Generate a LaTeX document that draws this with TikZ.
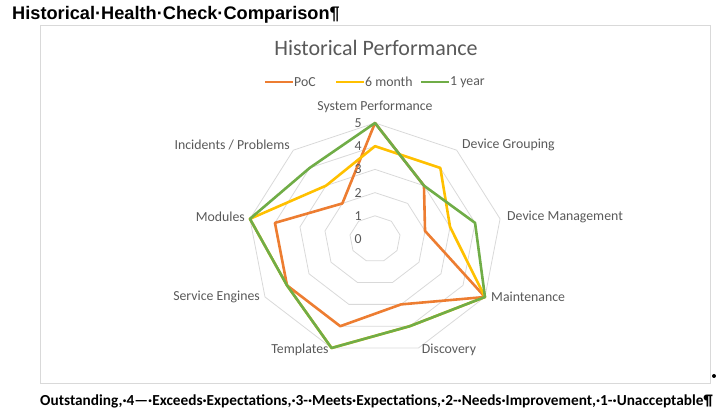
\documentclass[tikz,border=0pt]{standalone}
\usepackage{fontspec}
\setmainfont{Carlito}
\newfontfamily\arialfont{Liberation Sans}
\definecolor{pocorange}{HTML}{ED7D31}
\definecolor{sixyellow}{HTML}{FFC000}
\definecolor{yeargreen}{HTML}{70AD47}
\definecolor{chartgray}{HTML}{595959}
\definecolor{gridgray}{HTML}{D9D9D9}

\begin{document}
\begin{tikzpicture}[x=1pt, y=-1pt]
        \tikzstyle{chart_text}=[text=chartgray, font=\fontsize{13.8}{16}\selectfont, inner sep=0pt];
        \tikzstyle{grid_ring}=[draw=gridgray, line width=0.8pt];
        \tikzstyle{series}=[line width=2.6pt, line join=round];
        \useasboundingbox (0,0) rectangle (716,411);

        % page heading
        \node[anchor=base west, inner sep=0pt, font=\arialfont\bfseries\fontsize{18.2}{21}\selectfont] (heading) at (12,20) {Historical·Health·Check·Comparison¶};

        % chart frame
        \draw[gridgray, line width=0.8pt] (40,25) rectangle (710,383);
        \fill (714,376) circle (2);

        % chart title
        \node[chart_text, font=\fontsize{22}{25}\selectfont] (title) at (376,48) {Historical Performance};

        % legend
        \foreach \c/\t/\x/\n in {pocorange/PoC/265/poc, sixyellow/6 month/336/six, yeargreen/1 year/421/year}{
          \coordinate (\n-a) at (\x,82);
          \coordinate (\n-b) at (\x+28,82);
          \draw[series, \c] (\n-a) -- (\n-b);
          \node[chart_text, anchor=west] (\n-label) at (\x+29,82) {\t};
        }

        % rings and series
        \begin{scope}[shift={(375,239)}, x=25.4pt, y=23.2pt]
          \foreach \r in {1,...,5}{
            \draw[grid_ring] (90:\r) \foreach \a in {50,10,...,-230}{ -- (\a:\r)} -- cycle;
          }
          \draw[series, pocorange] (90:5) -- (50:3) -- (10:2) -- (-30:5) -- (-70:3) -- (-110:4) -- (-150:4) -- (-190:4) -- (-230:2) -- cycle;
          \draw[series, sixyellow] (90:4) -- (50:4) -- (10:3) -- (-30:5) -- (-70:4) -- (-110:5) -- (-150:4) -- (-190:5) -- (-230:3) -- cycle;
          \draw[series, yeargreen] (90:5) -- (50:3) -- (10:4) -- (-30:5) -- (-70:4) -- (-110:5) -- (-150:4) -- (-190:5) -- (-230:4) -- cycle;
        \end{scope}

        % tick values
        \foreach \v in {0,...,5}{
          \node[chart_text] (tick\v) at (358,{239-23.2*\v}) {\v};
        }

        % axis names
        \node[chart_text] (lbl-sys) at (375,107) {System Performance};
        \node[chart_text, anchor=west] (lbl-grp) at (462,145) {Device Grouping};
        \node[chart_text, anchor=west] (lbl-mgmt) at (507,217) {Device Management};
        \node[chart_text, anchor=west] (lbl-maint) at (491,297) {Maintenance};
        \node[chart_text] (lbl-disc) at (449,350) {Discovery};
        \node[chart_text] (lbl-tmpl) at (300,350) {Templates};
        \node[chart_text, anchor=east] (lbl-svc) at (260,297) {Service Engines};
        \node[chart_text, anchor=east] (lbl-mod) at (245,217) {Modules};
        \node[chart_text, anchor=east] (lbl-inc) at (290,145) {Incidents / Problems};

        % rating key
        \node[anchor=base west, inner sep=0pt, font=\bfseries\fontsize{15.3}{18}\selectfont] (key) at (40,406) {Outstanding,·4—·Exceeds·Expectations,·3-·Meets·Expectations,·2-·Needs·Improvement,·1-·Unacceptable¶};
\end{tikzpicture}
\end{document}
